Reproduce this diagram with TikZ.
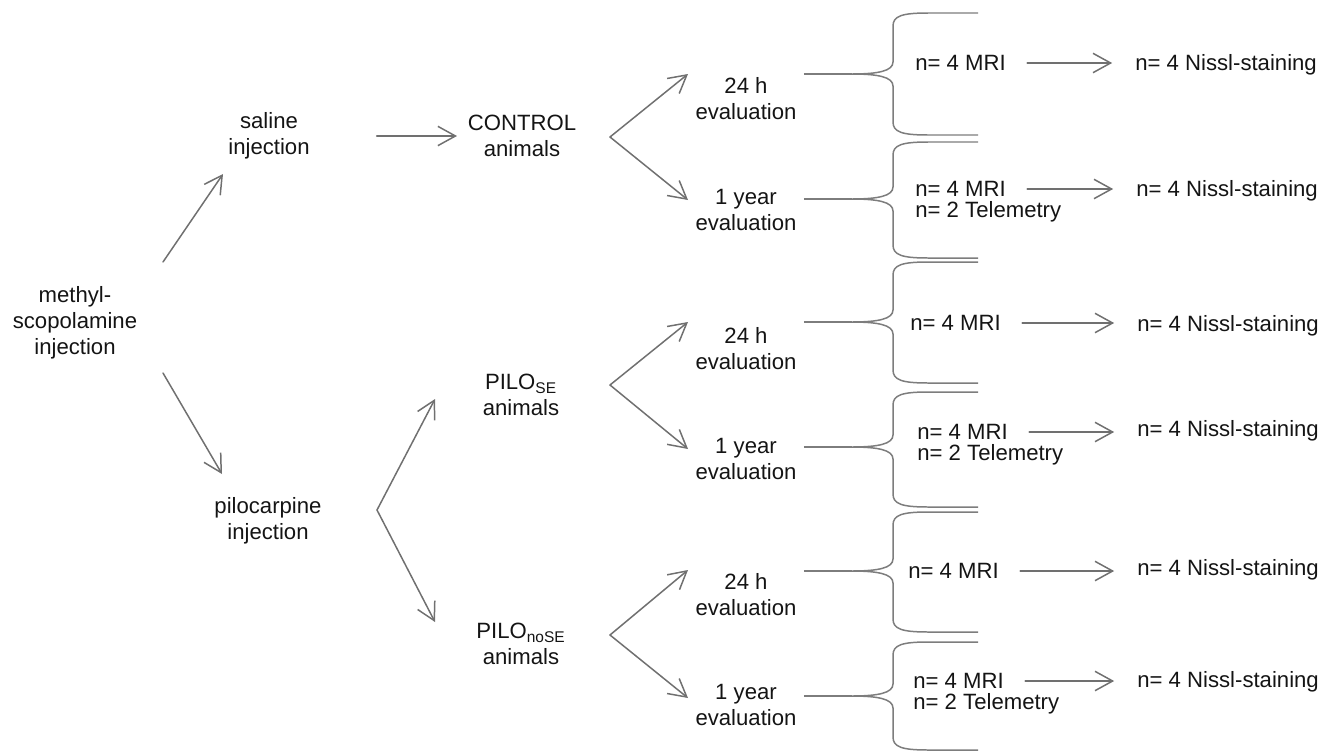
\documentclass[tikz,border=0pt]{standalone}
\usepackage{fontspec}
\setmainfont{Liberation Sans}
\usetikzlibrary{arrows.meta}
\definecolor{txtc}{RGB}{20,20,20}
\definecolor{arrc}{RGB}{112,112,112}
\definecolor{brcc}{RGB}{125,125,125}
% curly brace: tip y, top y, bottom y
\newcommand{\evbrace}[3]{%
  \draw[brc] (978,#2) -- (928,#2) .. controls (902,#2) and (893,#2+3) .. (893,#2+13)
    -- (893,#1-12) .. controls (893,#1-3) and (878,#1) .. (852,#1)
    .. controls (878,#1) and (893,#1+3) .. (893,#1+12)
    -- (893,#3-13) .. controls (893,#3-3) and (902,#3) .. (928,#3) -- (978,#3);}
\begin{document}
\begin{tikzpicture}[x=0.02cm,y=-0.02cm,
  lbl/.style={inner sep=0pt, align=center, text=txtc, font=\fontsize{12.6}{14.8}\selectfont},
  lbll/.style={lbl, anchor=west, align=left},
  arr/.style={draw=arrc, line width=0.85pt, line cap=round, -{Straight Barb[length=10pt,width=11pt]}},
  brc/.style={draw=brcc, line width=0.85pt, line join=round}]
\useasboundingbox (0,0) rectangle (1336,754);

\node[lbl] (meth) at (75,323) {methyl-\\scopolamine\\injection};
\node[lbl] (sal) at (269,136) {saline\\injection};
\node[lbl] (pilo) at (268,521) {pilocarpine\\injection};
\node[lbl] (ctrl) at (522,136) {CONTROL\\animals};
\node[lbl] (pse) at (521,395) {PILO\textsubscript{SE}\\animals};
\node[lbl] (pnse) at (521,644) {PILO\textsubscript{noSE}\\animals};

\node[lbl] (c24) at (746,99) {24 h\\evaluation};
\node[lbl] (c1y) at (746,210) {1 year\\evaluation};
\node[lbl] (s24) at (746,349) {24 h\\evaluation};
\node[lbl] (s1y) at (746,459) {1 year\\evaluation};
\node[lbl] (n24) at (746,595) {24 h\\evaluation};
\node[lbl] (n1y) at (746,705) {1 year\\evaluation};

\node[lbll] (cm24) at (915,63) {n= 4 MRI};
\node[lbll] (cm1y) at (915,189) {n= 4 MRI};
\node[lbll] (ct1y) at (915,212) {n= 2 Telemetry};
\node[lbll] (sm24) at (910,323) {n= 4 MRI};
\node[lbll] (sm1y) at (917,432) {n= 4 MRI};
\node[lbll] (st1y) at (917,455) {n= 2 Telemetry};
\node[lbll] (nm24) at (908,571) {n= 4 MRI};
\node[lbll] (nm1y) at (913,681) {n= 4 MRI};
\node[lbll] (nt1y) at (913,704) {n= 2 Telemetry};

\node[lbll] (cn24) at (1135,65) {n= 4 Nissl-staining};
\node[lbll] (cn1y) at (1136,191) {n= 4 Nissl-staining};
\node[lbll] (sn24) at (1137,326) {n= 4 Nissl-staining};
\node[lbll] (sn1y) at (1137,431) {n= 4 Nissl-staining};
\node[lbll] (nn24) at (1137,570) {n= 4 Nissl-staining};
\node[lbll] (nn1y) at (1137,682) {n= 4 Nissl-staining};

% arrow ends and forks
\coordinate (meth-a) at (163,262);
\coordinate (sal-in) at (223,174);
\coordinate (meth-b) at (163,373);
\coordinate (pilo-in) at (222,474);
\coordinate (pfork) at (377,510);
\coordinate (pse-in) at (435,399);
\coordinate (pnse-in) at (435,622);
\coordinate (cfork) at (610,137);
\coordinate (c24-in) at (688,74);
\coordinate (c1y-in) at (688,200);
\coordinate (sfork) at (610,385);
\coordinate (s24-in) at (688,322);
\coordinate (s1y-in) at (688,449);
\coordinate (nfork) at (610,635);
\coordinate (n24-in) at (688,570);
\coordinate (n1y-in) at (688,698);

\draw[arr] (meth-a) -- (sal-in);
\draw[arr] (meth-b) -- (pilo-in);
\draw[arr, shorten <=38pt, shorten >=6pt] (sal) -- (ctrl);
\draw[arr] (pfork) -- (pse-in);
\draw[arr] (pfork) -- (pnse-in);
\draw[arr] (cfork) -- (c24-in);
\draw[arr] (cfork) -- (c1y-in);
\draw[arr] (sfork) -- (s24-in);
\draw[arr] (sfork) -- (s1y-in);
\draw[arr] (nfork) -- (n24-in);
\draw[arr] (nfork) -- (n1y-in);

% braces
\coordinate (cb24) at (852,74);
\coordinate (cb1y) at (852,199);
\coordinate (sb24) at (852,322);
\coordinate (sb1y) at (852,447);
\coordinate (nb24) at (852,571);
\coordinate (nb1y) at (852,696);
\draw[brc, shorten <=4pt] (c24.east |- cb24) -- (cb24);
\draw[brc, shorten <=4pt] (c1y.east |- cb1y) -- (cb1y);
\draw[brc, shorten <=4pt] (s24.east |- sb24) -- (sb24);
\draw[brc, shorten <=4pt] (s1y.east |- sb1y) -- (sb1y);
\draw[brc, shorten <=4pt] (n24.east |- nb24) -- (nb24);
\draw[brc, shorten <=4pt] (n1y.east |- nb1y) -- (nb1y);
\evbrace{74}{13}{135}
\evbrace{199}{142}{258}
\evbrace{322}{262}{383}
\evbrace{447}{392}{507}
\evbrace{571}{512}{632}
\evbrace{696}{642}{750}

\draw[arr, shorten <=12pt, shorten >=13pt] (cm24.east) -- (cm24.east -| cn24.west);
\draw[arr, shorten <=12pt, shorten >=13pt] (cm1y.east) -- (cm1y.east -| cn1y.west);
\draw[arr, shorten <=12pt, shorten >=13pt] (sm24.east) -- (sm24.east -| sn24.west);
\draw[arr, shorten <=12pt, shorten >=13pt] (sm1y.east) -- (sm1y.east -| sn1y.west);
\draw[arr, shorten <=12pt, shorten >=13pt] (nm24.east) -- (nm24.east -| nn24.west);
\draw[arr, shorten <=12pt, shorten >=13pt] (nm1y.east) -- (nm1y.east -| nn1y.west);
\end{tikzpicture}
\end{document}
